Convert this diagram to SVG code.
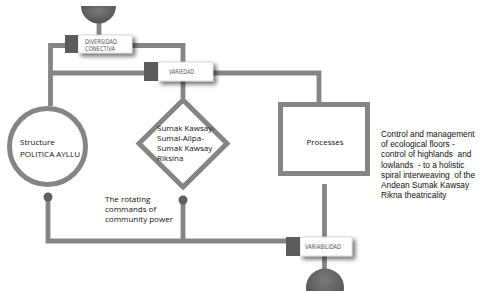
<svg xmlns="http://www.w3.org/2000/svg" width="480" height="291" viewBox="0 0 480 291">
<style>
.ln{fill:none;stroke:#858585;stroke-width:4.8}
.shape{fill:#fff;stroke:#858585;stroke-width:5}
.dot{fill:#5f5f5f}
.tab{fill:#5c5c5c}
.lbl{fill:#fff;stroke:#d0d0d0;stroke-width:0.8}
.lt{font-family:"DejaVu Sans Condensed","DejaVu Sans",sans-serif;font-size:6.5px;fill:#555}
.t{font-family:"Open Sans","DejaVu Sans",sans-serif;font-size:8px;fill:#111}
.ta{font-family:"Liberation Sans",Arial,sans-serif;font-size:8.3px;fill:#111}
</style>
<defs>
<filter id="sh" x="-20%" y="-40%" width="150%" height="200%">
<feDropShadow dx="3" dy="3" stdDeviation="2" flood-color="#000" flood-opacity="0.55"/>
</filter>
<radialGradient id="bowl" cx="50%" cy="30%" r="60%">
<stop offset="0" stop-color="#7a7a7a"/>
<stop offset="1" stop-color="#555"/>
</radialGradient>
</defs>
<g id="connectors">
<path class="ln" d="M99,23 V35"/>
<path class="ln" d="M65,45.5 H50.5 V106"/>
<path class="ln" d="M50.5,73 H144"/>
<path class="ln" d="M132,45.5 H183 V62"/>
<path class="ln" d="M213,73 H319 V102"/>
<path class="ln" d="M183,81 V98"/>
<path class="ln" d="M183,200 V241"/>
<path class="ln" d="M48,197 V241 H286"/>
<path class="ln" d="M324.5,184 V237"/>
<path class="ln" d="M324.5,256 V272"/>
</g>
<g id="source">
<path d="M81,6 H116 A17.5,17.5 0 0 1 81,6 Z" fill="url(#bowl)"/>
</g>
<g id="diversidad">
<rect class="lbl" x="78" y="35" width="54" height="18" filter="url(#sh)"/>
<rect class="tab" x="65" y="35" width="13" height="18"/>
<text class="lt" x="85" y="44" textLength="32" lengthAdjust="spacingAndGlyphs">DIVERSIDAD</text>
<text class="lt" x="85" y="51" textLength="30" lengthAdjust="spacingAndGlyphs">CONECTIVA</text>
</g>
<g id="variedad">
<rect class="lbl" x="158" y="62" width="55" height="19" filter="url(#sh)"/>
<rect class="tab" x="144" y="62" width="14" height="19"/>
<text class="lt" x="169" y="73.5" textLength="25" lengthAdjust="spacingAndGlyphs">VARIEDAD</text>
</g>
<g id="structure">
<circle class="shape" cx="47.5" cy="146.5" r="38"/>
<text class="t" x="20" y="145">Structure</text>
<text class="t" x="20" y="157">POLITICA AYLLU</text>
</g>
<g id="dot-left"><circle class="dot" cx="48" cy="197" r="4.5"/></g>
<g id="decision">
<polygon class="shape" points="183,100 227,143.5 183,187 139,143.5"/>
<text class="t" x="157" y="131">Sumak Kawsay-</text>
<text class="t" x="157" y="141">Sumal-Allpa-</text>
<text class="t" x="157" y="151">Sumak Kawsay</text>
<text class="t" x="157" y="161">Riksina</text>
</g>
<g id="dot-mid"><circle class="dot" cx="183" cy="200" r="4.5"/></g>
<g id="rotating">
<text class="t" x="105" y="201.5">The rotating</text>
<text class="t" x="105" y="211.5">commands of</text>
<text class="t" x="105" y="221.5">community power</text>
</g>
<g id="processes">
<rect class="shape" x="280.5" y="104.5" width="87" height="69"/>
<text class="t" x="325" y="145" text-anchor="middle" font-size="9">Processes</text>
</g>
<g id="note">
<text class="ta" x="381" y="137">Control and management</text>
<text class="ta" x="381" y="147.2">of ecological floors -</text>
<text class="ta" x="381" y="157.4" xml:space="preserve">control of highlands  and</text>
<text class="ta" x="381" y="167.6" xml:space="preserve">lowlands  - to a holistic</text>
<text class="ta" x="381" y="177.8" xml:space="preserve">spiral interweaving  of the</text>
<text class="ta" x="381" y="188">Andean Sumak Kawsay</text>
<text class="ta" x="381" y="198.2">Rikna theatricality</text>
</g>
<g id="variabilidad">
<rect class="lbl" x="300" y="237" width="52" height="19" filter="url(#sh)"/>
<rect class="tab" x="286" y="237" width="14" height="19"/>
<text class="lt" x="305" y="248.5" textLength="36" lengthAdjust="spacingAndGlyphs">VARIABILIDAD</text>
</g>
<g id="sink">
<circle cx="325" cy="287.5" r="19" fill="url(#bowl)"/>
</g>
</svg>
